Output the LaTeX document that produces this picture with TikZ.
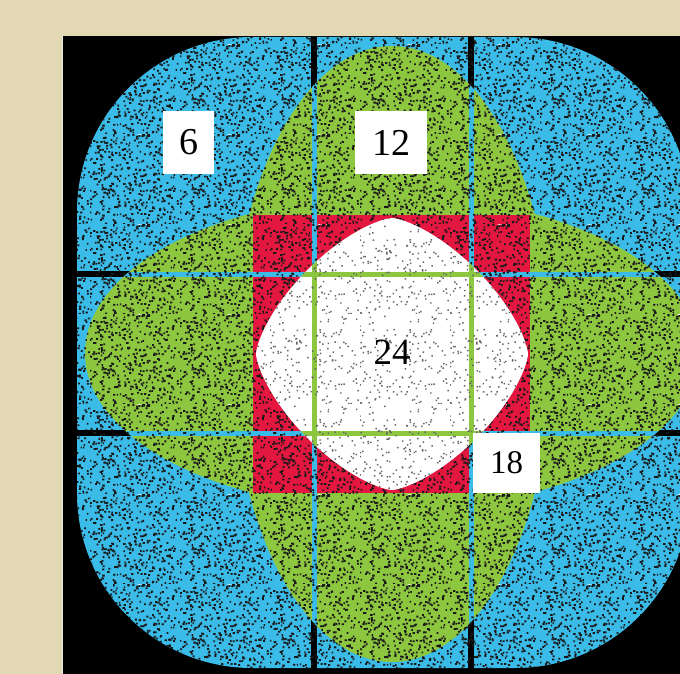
\documentclass[tikz,border=0pt]{standalone}
\usepackage{fontspec}
\setmainfont{Liberation Serif}
\usetikzlibrary{patterns}
\definecolor{beige}{HTML}{E2D8B4}
\definecolor{skyb}{HTML}{3BBBE8}
\definecolor{leaf}{HTML}{8DC63F}
\definecolor{crim}{HTML}{E3173F}
\definecolor{edgeline}{HTML}{E6E6E6}

\pgfdeclarepatternformonly{speckle}{\pgfpointorigin}{\pgfpoint{90pt}{90pt}}{\pgfpoint{90pt}{90pt}}{%
  \pgfmathsetseed{7}%
  \foreach \i in {1,...,420}{%
    \pgfmathsetmacro\spx{rnd*90-1}%
    \pgfmathsetmacro\spy{rnd*90-1}%
    \pgfmathsetmacro\spw{1.3+rnd*1.2}%
    \pgfpathrectangle{\pgfpoint{\spx pt}{\spy pt}}{\pgfpoint{\spw pt}{1.8pt}}%
    \pgfusepath{fill}%
  }%
}
\pgfdeclarepatternformonly{speckwhite}{\pgfpointorigin}{\pgfpoint{90pt}{90pt}}{\pgfpoint{90pt}{90pt}}{%
  \pgfmathsetseed{11}%
  \foreach \i in {1,...,180}{%
    \pgfmathsetmacro\spx{rnd*90-1}%
    \pgfmathsetmacro\spy{rnd*90-1}%
    \pgfpathrectangle{\pgfpoint{\spx pt}{\spy pt}}{\pgfpoint{1.5pt}{1.5pt}}%
    \pgfusepath{fill}%
  }%
}

\tikzset{
  bluesq/.style={insert path={[rounded corners=175pt] (77,37) rectangle (690,668) [sharp corners]}},
  vlens/.style={insert path={(392,354) ellipse [x radius=160pt, y radius=308pt]}},
  hlens/.style={insert path={(392,353) ellipse [x radius=307pt, y radius=157pt]}},
  redsq/.style={insert path={(253,215) rectangle (530,493)}},
  whiteshape/.style={insert path={plot[domain=1:359, samples=180]
      ({392+136*sign(cos(\x))*abs(cos(\x))^1.38}, {354-136*sign(sin(\x))*abs(sin(\x))^1.38}) -- cycle}},
  glines/.style={insert path={(314,20)--(314,690) (471,20)--(471,690) (40,274)--(700,274) (40,433)--(700,433)}},
  gl/.style={line width=5pt},
  lblbox/.style={fill=white, inner sep=0pt, font=\fontsize{38}{40}\selectfont},
}

\begin{document}
\begin{tikzpicture}[x=1pt,y=-1pt]
\useasboundingbox (0,0) rectangle (680,674);
\fill[beige] (0,0) rectangle (680,674);
\fill[black] (62,36) rectangle (680,674);
\coordinate (et) at (62.5,36);
\coordinate (eb) at (62.5,674);
\draw[edgeline, line width=1.5pt] (et) -- (eb);

% blue base
\fill[skyb, bluesq];
\draw[black, line width=6pt] (314,37)--(314,674) (471,37)--(471,674) (63,274)--(680,274) (63,433)--(680,433);

% green lenses
\fill[leaf, vlens];
\fill[leaf, hlens];
\begin{scope}
  \clip[vlens];
  \draw[skyb, gl, glines];
\end{scope}
\begin{scope}
  \clip[hlens];
  \draw[skyb, gl, glines];
\end{scope}

% red square
\fill[crim, redsq];
\begin{scope}
  \clip[redsq];
  \draw[skyb, gl, glines];
\end{scope}

% speckles on coloured regions
\fill[pattern=speckle, pattern color=black!90, bluesq];

% white centre
\fill[white, whiteshape];
\begin{scope}
  \clip[whiteshape];
  \draw[leaf, gl, glines];
\end{scope}
\fill[pattern=speckwhite, pattern color=black!60, whiteshape];

% labels
\node[lblbox, minimum width=51pt, minimum height=63pt] (six) at (188.5,142.5) {6};
\node[lblbox, minimum width=72pt, minimum height=63pt] (twelve) at (391,142.5) {12};
\node[font=\fontsize{37}{40}\selectfont, inner sep=0pt] (tfour) at (392,352) {24};
\node[lblbox, minimum width=67pt, minimum height=60pt, font=\fontsize{33}{36}\selectfont] (eighteen) at (506.5,463) {18};
\end{tikzpicture}
\end{document}
